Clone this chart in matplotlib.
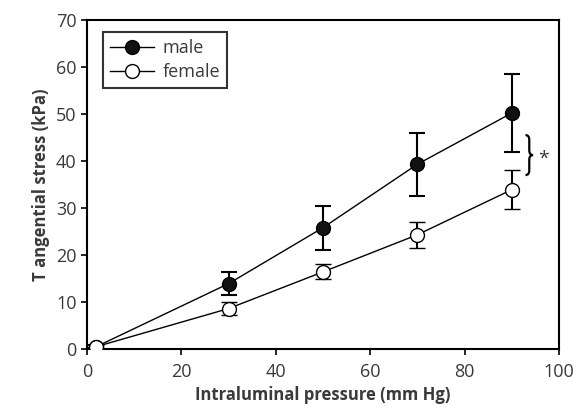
import matplotlib.pyplot as plt
from matplotlib.lines import Line2D
from matplotlib.path import Path
from matplotlib.patches import PathPatch

# Tangential stress vs intraluminal pressure, mean +/- SD
pressure = [2, 30, 50, 70, 90]
male_stress = [0.5, 13.9, 25.8, 39.3, 50.2]
male_err = [0.3, 2.4, 4.7, 6.7, 8.4]
female_stress = [0.5, 8.6, 16.4, 24.3, 33.9]
female_err = [0.3, 1.4, 1.6, 2.8, 4.2]

text_color = '#3a3a3a'
plt.rcParams['font.family'] = ['Open Sans', 'DejaVu Sans']

fig = plt.figure(figsize=(5.79, 4.15), dpi=100)
ax = fig.add_axes([0.150, 0.159, 0.8155, 0.793])

ax.errorbar(pressure, male_stress, yerr=male_err, color='black', marker='o',
            markersize=10, markerfacecolor='#111111', markeredgecolor='black',
            linewidth=1.0, elinewidth=1.5, capsize=6, capthick=1.5, zorder=3)
ax.errorbar(pressure, female_stress, yerr=female_err, color='black', marker='o',
            markersize=10, markerfacecolor='white', markeredgecolor='black',
            markeredgewidth=1.0, linewidth=1.0, elinewidth=1.5, capsize=6,
            capthick=1.5, zorder=3)

ax.set_xlim(0, 100)
ax.set_ylim(0, 70)
ax.set_xticks(range(0, 101, 20))
ax.set_yticks(range(0, 71, 10))
ax.tick_params(direction='out', length=4, width=1.2, labelsize=13,
               labelcolor=text_color)
ax.tick_params(axis='x', pad=6)
for s in ax.spines.values():
    s.set_linewidth(1.5)

ax.set_xlabel('Intraluminal pressure (mm Hg)', fontsize=12, fontweight='bold',
              color=text_color, labelpad=4)
ax.set_ylabel('T angential stress (kPa)', fontsize=12, fontweight='bold',
              color=text_color, labelpad=4)

# curly bracket marking the male/female difference at 90 mm Hg
top, bot = 45.5, 37.0
mid = (top + bot) / 2
x0, x1, x2 = 92.9, 93.7, 94.5
verts = [(x0, top), (x1, top), (x1, top - 1.0),
         (x1, mid + 1.0), (x1, mid), (x2, mid),
         (x1, mid), (x1, mid - 1.0),
         (x1, bot + 1.0), (x1, bot), (x0, bot)]
codes = [Path.MOVETO, Path.CURVE3, Path.CURVE3,
         Path.LINETO, Path.CURVE3, Path.CURVE3,
         Path.CURVE3, Path.CURVE3,
         Path.LINETO, Path.CURVE3, Path.CURVE3]
ax.add_patch(PathPatch(Path(verts, codes), facecolor='none',
                       edgecolor='black', linewidth=1.6, clip_on=False))
ax.text(96.7, mid - 0.9, '*', fontsize=14, ha='center', va='center',
        color=text_color)

handles = [
    Line2D([], [], color='black', linewidth=1.0, marker='o', markersize=10,
           markerfacecolor='#111111', markeredgecolor='black'),
    Line2D([], [], color='black', linewidth=1.0, marker='o', markersize=10,
           markerfacecolor='white', markeredgecolor='black'),
]
leg = ax.legend(handles, ['male', 'female'], loc='upper left',
                bbox_to_anchor=(0.015, 0.99), fontsize=13, frameon=True,
                fancybox=False, edgecolor='black', handlelength=2.4,
                borderpad=0.4, labelspacing=0.3, handletextpad=0.5)
leg.get_frame().set_linewidth(1.5)
for t in leg.get_texts():
    t.set_color(text_color)

fig.savefig('out.png', dpi=100)
